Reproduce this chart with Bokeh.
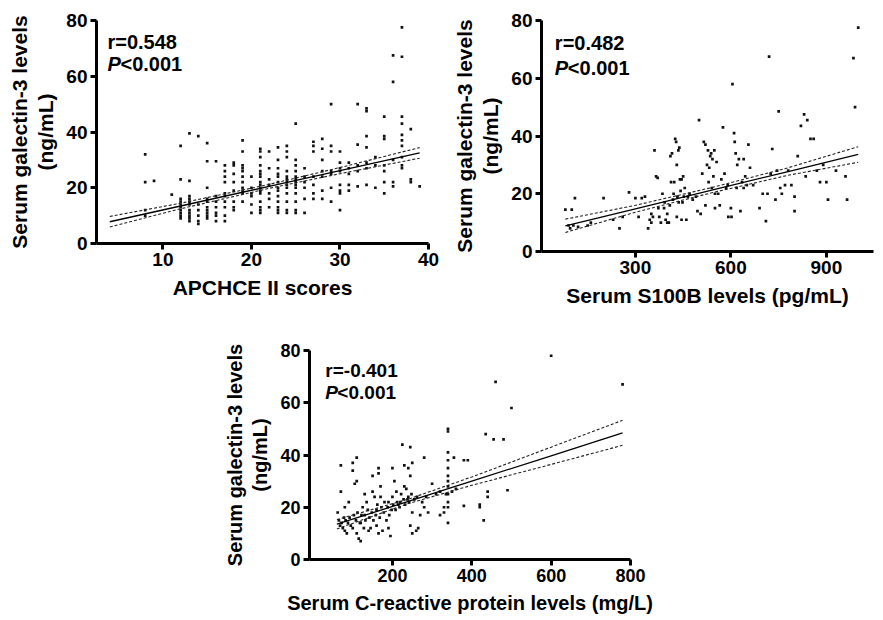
from bokeh.plotting import figure
from bokeh.models import Range1d, FixedTicker, Title, Label, Spacer
from bokeh.layouts import column, row
from bokeh.embed import file_html
from bokeh.resources import INLINE

# ---------------- data ----------------
# Panel A: APACHE II scores vs galectin-3 (grouped by integer score)
apache_groups = {
    8: [32, 22, 12, 10], 9: [22.5], 11: [17.5],
    12: [35, 23, 16, 15, 14, 13, 12, 11, 10, 9],
    13: [39.5, 22.5, 17, 16, 15, 14, 12, 11, 10, 9, 8],
    14: [38.5, 14, 12, 10, 8, 7],
    15: [36, 29.5, 20, 16, 15, 13, 12, 11, 10, 9],
    16: [29.5, 17, 15, 13, 11, 10, 8],
    17: [28, 26, 24, 22, 18, 17, 15, 13, 10, 8],
    18: [29, 28, 25, 22, 19, 15, 13, 12],
    19: [37, 33, 28, 27, 26, 24, 22, 20, 19, 18, 15],
    20: [24, 20, 18, 17, 14, 11],
    21: [34, 33, 31, 28, 26, 25, 24, 22, 21, 20, 19, 18, 15, 13, 12, 11],
    22: [33, 27, 23, 21, 18, 16, 13],
    23: [34.5, 30, 27, 25, 24, 22, 20, 19, 17, 15, 13, 12, 11],
    24: [35, 33, 31, 26, 24, 23, 22, 21, 20, 18, 15, 12, 11],
    25: [43, 30, 28, 26, 24, 23, 22, 21, 20, 18, 15, 12, 11],
    26: [27, 24, 22, 20, 16, 11],
    27: [36.5, 35, 33, 24, 21, 18, 16],
    28: [37.5, 34, 30, 26, 24, 19, 16],
    29: [50, 35, 33, 26, 25, 20, 15],
    30: [33, 29, 27, 26, 21, 19, 18, 12],
    31: [29, 27, 25, 21, 19],
    32: [50, 35.5, 28, 26, 20.5],
    33: [48.5, 47.5, 38.5, 34.5, 29, 27, 21],
    34: [31, 28, 20],
    35: [45.5, 38.5, 37.5, 28, 26, 22, 18],
    36: [67.5, 58, 30, 22, 20.5],
    37: [77.5, 67, 45.5, 43, 39, 37, 35, 31, 28, 27],
    38: [41, 23, 22],
    39: [20.5],
}
apache_x = [k for k, vals in apache_groups.items() for _ in vals]
apache_y = [v for vals in apache_groups.values() for v in vals]
apache_fit_x = [4, 12, 22, 30, 39]
apache_fit_y = [7.8, 13.45, 20.5, 26.15, 32.5]
apache_ci_hi = [9.7, 14.45, 21.2, 27.25, 34.4]
apache_ci_lo = [5.9, 12.45, 19.8, 25.05, 30.6]

# Panel B: S100B vs galectin-3
s100b_pts = [
    (80, 14.5), (100, 14.5), (110, 18.5), (90, 9), (95, 8), (105, 9), (120, 8.5), (150, 9), (160, 10),
    (200, 18.5), (230, 11), (250, 8), (260, 12), (280, 20.5), (300, 18.5), (320, 18.5), (310, 12),
    (330, 19), (340, 8), (345, 11), (350, 10), (350, 13), (355, 12), (360, 35), (365, 26), (370, 25.5),
    (372, 15), (375, 12), (380, 10), (385, 20), (390, 15), (392, 17), (395, 11), (400, 13), (400, 10),
    (405, 10), (408, 16), (410, 33), (412, 24), (415, 34), (418, 18), (420, 20), (422, 24), (425, 39),
    (428, 38), (430, 30), (432, 19), (435, 35), (436, 17), (438, 36), (440, 25), (442, 21), (445, 25),
    (448, 17), (450, 26), (452, 19), (455, 22), (430, 12), (445, 11), (460, 11), (465, 19), (470, 20),
    (480, 18), (490, 19), (495, 14), (500, 45.5), (505, 13), (510, 27), (515, 38), (520, 37), (525, 30),
    (528, 35), (530, 24), (532, 29), (535, 33), (538, 34), (540, 22), (542, 32), (545, 26), (548, 35),
    (550, 20), (555, 31), (520, 16), (550, 15), (560, 20), (565, 16), (570, 25), (575, 43), (580, 27),
    (585, 22), (590, 23), (592, 12), (600, 15), (602, 12), (605, 58), (610, 41), (612, 38), (615, 34),
    (618, 22), (620, 30), (625, 32), (630, 14), (635, 24), (640, 22), (640, 32), (645, 26), (650, 23),
    (655, 37), (660, 29), (670, 23), (690, 15), (700, 20), (710, 10.5), (715, 20), (720, 67.5),
    (725, 27), (730, 35.5), (740, 18), (745, 28), (750, 48.5), (755, 22), (760, 20), (770, 23),
    (780, 28), (790, 23), (800, 14), (800, 19), (810, 33), (820, 43.5), (830, 47.5), (835, 26),
    (840, 45.5), (850, 39), (860, 39), (870, 28), (880, 24), (890, 30), (900, 24), (905, 18),
    (930, 28), (960, 26), (965, 18), (985, 67), (990, 50), (1000, 77.5),
]
s100b_x = [a for a, b in s100b_pts]
s100b_y = [b for a, b in s100b_pts]
s100b_fit_x = [80, 300, 540, 780, 1000]
s100b_fit_y = [8.9, 14.8, 21.25, 27.7, 33.6]
s100b_ci_hi = [11.2, 16.0, 22.15, 29.0, 36.3]
s100b_ci_lo = [6.6, 13.6, 20.35, 26.4, 30.9]

# Panel C: CRP vs galectin-3
crp_pts = [
    (62, 18), (65, 15), (68, 13), (70, 36), (70, 26), (72, 14), (75, 12), (78, 16), (80, 20), (80, 11),
    (82, 15), (85, 10), (88, 14), (90, 22), (92, 16), (95, 13), (100, 37), (100, 34), (100, 12),
    (103, 17), (105, 29), (108, 15), (110, 39), (110, 30), (110, 10), (112, 18), (115, 8), (118, 14),
    (120, 7), (120, 14), (122, 17), (125, 20), (128, 12), (130, 25), (130, 17), (132, 15), (135, 22),
    (138, 19), (140, 11), (142, 16), (145, 12), (148, 18), (150, 32), (150, 26), (152, 15), (155, 24),
    (158, 17), (160, 19), (160, 13), (162, 21), (165, 35), (165, 33), (165, 10), (168, 16), (170, 28),
    (170, 24), (172, 20), (175, 11), (178, 18), (180, 22), (185, 15), (188, 20), (190, 22), (190, 12),
    (192, 17), (195, 9), (198, 19), (200, 35), (200, 24), (202, 21), (205, 30), (208, 19), (210, 26),
    (212, 22), (215, 21), (218, 20), (220, 22), (222, 25), (225, 44), (228, 23), (230, 36), (230, 28),
    (232, 21), (235, 27), (238, 23), (240, 35), (240, 24), (242, 22), (245, 43), (245, 32), (245, 13),
    (248, 25), (250, 37), (250, 18), (250, 10), (255, 23), (260, 11), (262, 24), (265, 12), (270, 17),
    (275, 22), (280, 39), (280, 20), (285, 24), (290, 18), (300, 29), (310, 25), (320, 26), (320, 17),
    (330, 20), (330, 18), (335, 25), (340, 50), (340, 49), (340, 41), (340, 38), (340, 35), (340, 32),
    (340, 30), (340, 28), (340, 25), (340, 22), (340, 20), (340, 14), (350, 26), (355, 39), (360, 27),
    (380, 38), (390, 38), (380, 20.5), (420, 21), (420, 20), (430, 15), (435, 48), (440, 24), (440, 26),
    (455, 46), (460, 68), (480, 46), (490, 26.5), (500, 58), (600, 78), (780, 67),
]
crp_x = [a for a, b in crp_pts]
crp_y = [b for a, b in crp_pts]
crp_fit_x = [60, 240, 400, 600, 780]
crp_fit_y = [13.5, 22.25, 30.0, 39.7, 48.5]
crp_ci_hi = [15.3, 23.1, 31.6, 43.0, 53.3]
crp_ci_lo = [11.7, 21.4, 28.4, 36.4, 43.7]

y_ticks = [0, 20, 40, 60, 80]
FONT = "Liberation Sans"


def make_panel(xr, xticks, fw, fh, mbl, mbr, mbt, mbb, xlabel, tick_fs, lab_fs,
               xs, ys, fx, fy, hi, lo, r_text, txt_x, txt_y1, txt_y2, txt_fs, p_off):
    p = figure(x_range=Range1d(*xr), y_range=Range1d(0, 80),
               frame_width=fw, frame_height=fh,
               min_border_left=mbl, min_border_right=mbr,
               min_border_top=mbt, min_border_bottom=mbb,
               output_backend="svg", toolbar_location=None)
    p.grid.visible = False
    p.outline_line_color = None
    p.background_fill_color = "white"
    p.border_fill_color = "white"
    p.xaxis.ticker = FixedTicker(ticks=xticks)
    p.yaxis.ticker = FixedTicker(ticks=y_ticks)
    for ax in (p.xaxis, p.yaxis):
        ax.axis_line_width = 3
        ax.axis_line_color = "black"
        ax.major_tick_line_width = 3
        ax.major_tick_line_color = "black"
        ax.major_tick_out = 6
        ax.major_tick_in = 0
        ax.minor_tick_line_color = None
        ax.major_label_text_font = FONT
        ax.major_label_text_font_style = "bold"
        ax.major_label_text_font_size = tick_fs
        ax.major_label_text_color = "black"
        ax.axis_label_text_font = FONT
        ax.axis_label_text_font_style = "bold"
        ax.axis_label_text_font_size = lab_fs
        ax.axis_label_text_color = "black"
    p.xaxis.axis_label = xlabel
    p.xaxis.major_label_standoff = 3
    p.xaxis.axis_label_standoff = 7
    p.yaxis.axis_label = "(ng/mL)"
    p.yaxis.major_label_standoff = 3
    p.yaxis.axis_label_standoff = 6
    t = Title(text="Serum galectin-3 levels", align="center", text_font=FONT,
              text_font_style="bold", text_font_size=lab_fs, text_color="black",
              standoff=2)
    p.add_layout(t, "left")

    p.scatter(xs, ys, marker="square", size=2.7, color="#111111", line_width=0)
    p.line(fx, fy, line_color="black", line_width=1.3)
    p.line(fx, hi, line_color="#222222", line_width=1.1, line_dash="3 2")
    p.line(fx, lo, line_color="#222222", line_width=1.1, line_dash="3 2")

    common = dict(text_font=FONT, text_font_size=txt_fs, text_color="black",
                  text_baseline="top", text_align="left")
    p.add_layout(Label(x=txt_x, y=txt_y1, text=r_text, text_font_style="bold", **common))
    p.add_layout(Label(x=txt_x, y=txt_y2, text="P", text_font_style="bold italic", **common))
    p.add_layout(Label(x=txt_x, y=txt_y2, x_offset=p_off, text="<0.001",
                       text_font_style="bold", **common))
    return p


p1 = make_panel((2.5, 40), [10, 20, 30, 40], 332, 223, 96, 13, 20, 73,
                "APCHCE II scores", "19px", "21px",
                apache_x, apache_y, apache_fit_x, apache_fit_y, apache_ci_hi, apache_ci_lo,
                "r=0.548", 3.74, 76.4, 68.2, "20px", 13)
p2 = make_panel((5, 1048), [300, 600, 900], 332, 231, 100, 8, 15, 70,
                "Serum S100B levels (pg/mL)", "19px", "21px",
                s100b_x, s100b_y, s100b_fit_x, s100b_fit_y, s100b_ci_hi, s100b_ci_lo,
                "r=0.482", 47, 76.0, 67.3, "20px", 13)
p3 = make_panel((-9, 800), [200, 400, 600, 800], 321, 209, 88, 45, 34, 53,
                "Serum C-reactive protein levels (mg/L)", "18px", "20px",
                crp_x, crp_y, crp_fit_x, crp_fit_y, crp_ci_hi, crp_ci_lo,
                "r=-0.401", 31, 76.2, 67.9, "19px", 12)

layout = column(row(p1, p2), row(Spacer(width=220, height=10), p3))

open("out.html", "w").write(file_html(layout, INLINE))
